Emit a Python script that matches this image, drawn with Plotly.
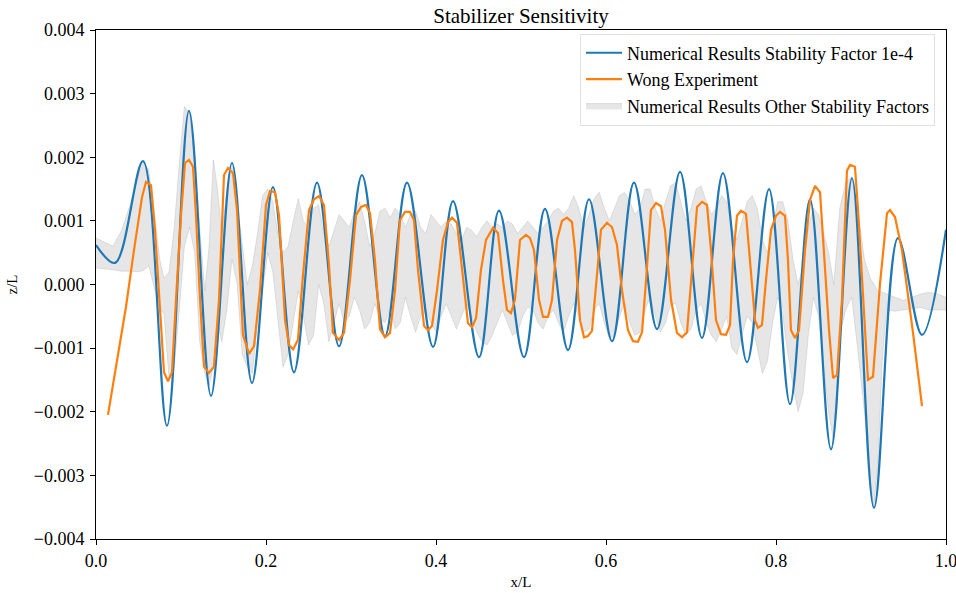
import plotly.graph_objects as go

# Numerical result, stability factor 1e-4 (extrema of the wave profile)
num_x = [0.0, 0.0224, 0.0553, 0.0835, 0.1094, 0.1353, 0.16, 0.1835, 0.2082, 0.2329,
         0.26, 0.2859, 0.3129, 0.34, 0.3659, 0.3965, 0.42, 0.4506, 0.4741, 0.5035,
         0.5282, 0.5553, 0.58, 0.6071, 0.6329, 0.66, 0.6871, 0.7129, 0.7376, 0.7659,
         0.7918, 0.8165, 0.84, 0.8647, 0.8894, 0.9153, 0.9435, 0.9718, 1.0]
num_z = [0.00062, 0.00034, 0.00194, -0.00222, 0.00273, -0.00175, 0.00191, -0.00155, 0.00153, -0.00138,
         0.0016, -0.00097, 0.00172, -0.00081, 0.0016, -0.00098, 0.00131, -0.00114, 0.00116, -0.00114,
         0.00119, -0.00103, 0.00134, -0.00089, 0.0016, -0.0007, 0.00177, -0.00084, 0.00175, -0.00122,
         0.0015, -0.00188, 0.00134, -0.00259, 0.00167, -0.00351, 0.00073, -0.00079, 0.00086]

exp_x = [0.0141, 0.0235, 0.0353, 0.0447, 0.0541, 0.0588, 0.0647, 0.0694, 0.0765, 0.08,
         0.0847, 0.0894, 0.0941, 0.1, 0.1047, 0.1094, 0.1141, 0.1176, 0.1224, 0.1271,
         0.1329, 0.1388, 0.1447, 0.1506, 0.1553, 0.1612, 0.1659, 0.1729, 0.18, 0.1859,
         0.1929, 0.2, 0.2047, 0.2106, 0.2153, 0.2224, 0.2271, 0.2318, 0.2376, 0.2435,
         0.2506, 0.2565, 0.2624, 0.2682, 0.2741, 0.2788, 0.2859, 0.2918, 0.2988, 0.3059,
         0.3118, 0.3176, 0.3224, 0.3282, 0.3341, 0.34, 0.3459, 0.3518, 0.3576, 0.3635,
         0.3694, 0.3741, 0.3788, 0.3859, 0.3906, 0.3953, 0.4012, 0.4082, 0.4141, 0.4188,
         0.4247, 0.4306, 0.4376, 0.4424, 0.4471, 0.4529, 0.4588, 0.4671, 0.4729, 0.4788,
         0.4835, 0.4882, 0.4929, 0.4988, 0.5059, 0.5106, 0.5153, 0.5212, 0.5259, 0.5318,
         0.5365, 0.5424, 0.5482, 0.5541, 0.56, 0.5635, 0.5694, 0.5741, 0.5788, 0.5835,
         0.5894, 0.5941, 0.6012, 0.6071, 0.6129, 0.6188, 0.6259, 0.6318, 0.6376, 0.6424,
         0.6471, 0.6529, 0.6588, 0.6647, 0.6694, 0.6765, 0.6835, 0.6894, 0.6953, 0.7,
         0.7071, 0.7129, 0.7188, 0.7235, 0.7294, 0.7353, 0.7412, 0.7459, 0.7494, 0.7541,
         0.7588, 0.7647, 0.7694, 0.7753, 0.7788, 0.7835, 0.7882, 0.7941, 0.8, 0.8047,
         0.8106, 0.8141, 0.8176, 0.8224, 0.8271, 0.8341, 0.84, 0.8459, 0.8518, 0.8576,
         0.8624, 0.8671, 0.8718, 0.8776, 0.8835, 0.8871, 0.8929, 0.8965, 0.9024, 0.9082,
         0.9141, 0.9224, 0.9306, 0.9341, 0.94, 0.9482, 0.9612, 0.9718]
exp_z = [-0.00205, -0.0013, -0.00035, 0.00054, 0.00137, 0.00161, 0.00156, 0.00086, -0.00072, -0.00138,
         -0.00152, -0.00138, -0.00024, 0.00109, 0.00191, 0.00196, 0.00185, 0.00109, -0.00024, -0.00129,
         -0.00139, -0.00129, -0.00024, 0.00172, 0.00183, 0.00175, 0.00117, -0.00079, -0.00109, -0.00097,
         -0.00009, 0.00125, 0.00147, 0.00145, 0.00109, -0.00056, -0.00095, -0.00102, -0.00087, 0.00015,
         0.00117, 0.00134, 0.00139, 0.00125, 0.00031, -0.00076, -0.00087, -0.00076, 0.00007, 0.00109,
         0.00122, 0.00125, 0.00112, 0.00038, -0.0007, -0.00083, -0.00076, -0.00009, 0.00101, 0.00114,
         0.00114, 0.00101, 0.00023, -0.00065, -0.00072, -0.00065, -0.00009, 0.0007, 0.00098, 0.00105,
         0.00097, 0.00023, -0.00061, -0.00067, -0.00053, 0.00023, 0.0007, 0.00089, 0.00081, 0.00007,
         -0.0004, -0.00045, -0.00024, 0.0007, 0.00078, 0.00073, 0.00054, -0.00024, -0.00051, -0.00051,
         -0.00024, 0.0007, 0.001, 0.00105, 0.00098, 0.00054, -0.00056, -0.00083, -0.00081, -0.00073,
         0.00023, 0.00086, 0.00097, 0.0009, 0.00062, -0.00009, -0.00072, -0.00089, -0.0009, -0.00075,
         0.00007, 0.00117, 0.00128, 0.00123, 0.00086, -0.00024, -0.00076, -0.00083, -0.00075, 0.00007,
         0.00122, 0.0013, 0.00125, 0.00054, -0.00056, -0.00078, -0.00079, -0.00064, 0.00038, 0.00108,
         0.00116, 0.00111, 0.00038, -0.00056, -0.00068, -0.00064, 0.00007, 0.00086, 0.00108, 0.00114,
         0.00108, 0.00038, -0.00072, -0.00084, -0.00072, 0.00054, 0.00133, 0.00155, 0.00145, 0.00031,
         -0.00072, -0.00147, -0.00142, -0.00024, 0.00179, 0.00188, 0.00185, 0.00117, -0.00024, -0.0015,
         -0.00145, 0.00002, 0.00112, 0.00117, 0.00106, 0.00054, -0.00076, -0.00191]

# Envelope of the runs with the other stability factors
band_x = [0.0, 0.01, 0.02, 0.03, 0.04, 0.05, 0.056, 0.062, 0.068, 0.075,
          0.08, 0.086, 0.092, 0.098, 0.104, 0.11, 0.116, 0.122, 0.128, 0.133,
          0.138, 0.143, 0.148, 0.154, 0.16, 0.166, 0.172, 0.178, 0.184, 0.19,
          0.196, 0.202, 0.208, 0.214, 0.22, 0.226, 0.232, 0.238, 0.244, 0.25,
          0.256, 0.262, 0.268, 0.274, 0.28, 0.286, 0.292, 0.298, 0.304, 0.31,
          0.316, 0.322, 0.328, 0.334, 0.34, 0.346, 0.352, 0.358, 0.364, 0.37,
          0.376, 0.382, 0.388, 0.394, 0.4, 0.406, 0.412, 0.418, 0.424, 0.43,
          0.436, 0.442, 0.448, 0.454, 0.46, 0.466, 0.472, 0.478, 0.484, 0.49,
          0.496, 0.502, 0.508, 0.514, 0.52, 0.526, 0.532, 0.538, 0.544, 0.55,
          0.556, 0.562, 0.568, 0.574, 0.58, 0.586, 0.592, 0.598, 0.604, 0.61,
          0.616, 0.622, 0.628, 0.634, 0.64, 0.646, 0.652, 0.658, 0.664, 0.67,
          0.676, 0.682, 0.688, 0.694, 0.7, 0.706, 0.712, 0.718, 0.724, 0.73,
          0.736, 0.742, 0.748, 0.754, 0.76, 0.766, 0.772, 0.778, 0.784, 0.79,
          0.796, 0.802, 0.808, 0.814, 0.82, 0.826, 0.832, 0.838, 0.844, 0.85,
          0.856, 0.862, 0.868, 0.875, 0.882, 0.889, 0.896, 0.904, 0.911, 0.915,
          0.92, 0.925, 0.93, 0.94, 0.95, 0.96, 0.97, 0.98, 0.99, 1.0]
band_hi = [0.00073, 0.00066, 0.0006, 0.00085, 0.00125, 0.00172, 0.00192, 0.0018, 0.0012, 0.0004,
           0.0001, 0.0002, 0.0009, 0.0019, 0.0028, 0.0027, 0.002, 0.0009, -0.0001, 0.0006,
           0.00196, 0.0015, 0.0008, 0.0015, 0.00185, 0.0013, 0.0006, 0.0, 0.0003, 0.0008,
           0.0014, 0.0015, 0.0013, 0.0008, 0.0005, 0.0006, 0.001, 0.00135, 0.001, 0.0009,
           0.0012, 0.00125, 0.0008, 0.0006, 0.00085, 0.0011, 0.001, 0.0009, 0.00115, 0.0013,
           0.001, 0.0006, 0.0008, 0.00115, 0.0012, 0.00105, 0.0012, 0.0011, 0.0009, 0.0011,
           0.00115, 0.0009, 0.0008, 0.0011, 0.001, 0.0009, 0.001, 0.00095, 0.0008, 0.0007,
           0.0009, 0.00085, 0.00075, 0.0009, 0.001, 0.0009, 0.00095, 0.0009, 0.001, 0.00095,
           0.0008, 0.0009, 0.001, 0.0009, 0.0008, 0.0009, 0.001, 0.00115, 0.0012, 0.0011,
           0.0012, 0.0014, 0.0012, 0.0009, 0.0011, 0.00135, 0.00145, 0.0012, 0.001, 0.0012,
           0.0014, 0.00145, 0.0013, 0.0011, 0.0012, 0.0015, 0.0015, 0.0012, 0.001, 0.0013,
           0.00155, 0.0016, 0.0013, 0.001, 0.0012, 0.0015, 0.00155, 0.0013, 0.0011, 0.0012,
           0.0014, 0.0013, 0.0009, 0.0007, 0.001, 0.0013, 0.0014, 0.0012, 0.0007, 0.0005,
           0.0009, 0.0013, 0.0013, 0.001, 0.0004, 0.0, 0.0003, 0.0009, 0.0012, 0.0011,
           0.0008, 0.0005, 0.0, 0.0012, 0.0016, 0.0017, 0.0012, 0.0004, 0.0001, 0.0,
           -0.0001, -0.00012, -0.00015, -0.0002, -0.00025, -0.0002, -0.00015, -0.00012, -0.00015, -0.0002]
band_lo = [0.00026, 0.00024, 0.00023, 0.00021, 0.00021, 0.0002, 0.00022, 0.0003, 0.0, -0.0004,
           -0.00045, -0.0015, -0.0013, -0.0004, 0.0006, 0.0009, 0.0005, -0.0009, -0.0014, -0.0016,
           -0.0013, -0.0006, -0.0009, -0.0004, 0.0004, 0.0, -0.0011, -0.0013, -0.0014, -0.0006,
           -0.0001, 0.0005, 0.0002, -0.0006, -0.0013, -0.0011, -0.0006, -0.0001, -0.0005, -0.00095,
           -0.0008, 0.0, -0.0003, -0.0009, -0.0006, -0.0003, -0.0006, -0.0005, -0.0002, -0.0004,
           -0.0007, -0.0006, -0.0003, -0.00055, -0.0006, -0.0004, -0.0007, -0.0006, -0.0002, -0.0005,
           -0.00075, -0.0005, -0.0004, -0.0006, -0.00075, -0.0005, -0.0003, -0.0005, -0.0007, -0.0005,
           -0.0003, -0.0005, -0.00075, -0.0009, -0.00095, -0.0008, -0.0006, -0.0004, -0.0006, -0.0008,
           -0.00075, -0.0005, -0.00035, -0.0004, -0.0006, -0.0007, -0.0005, -0.0004, -0.0006, -0.00075,
           -0.0005, -0.0003, -0.0005, -0.00075, -0.0007, -0.0004, -0.0003, -0.0006, -0.00085, -0.0008,
           -0.0005, -0.0003, -0.0006, -0.0008, -0.00075, -0.0004, -0.0002, -0.0005, -0.00075, -0.0006,
           -0.0003, -0.0003, -0.0006, -0.0008, -0.0007, -0.0004, -0.0003, -0.0006, -0.0008, -0.0009,
           -0.0007, -0.0005, -0.001, -0.0011, -0.0008, -0.0005, -0.0006, -0.001, -0.0014, -0.0012,
           -0.0006, -0.0002, -0.0005, -0.0011, -0.0016, -0.002, -0.0017, -0.0008, -0.0002, -0.0005,
           -0.0013, -0.002, -0.0025, -0.0008, -0.0004, -0.0002, -0.001, -0.002, -0.0031, -0.0035,
           -0.0028, -0.0012, -0.0004, -0.00042, -0.0004, -0.00038, -0.00036, -0.0004, -0.0004, -0.0004]

SERIF = "Liberation Serif, Times New Roman, serif"
BLUE = "#1f77b4"
ORANGE = "#ff7f0e"

fig = go.Figure()

# grey envelope as a closed polygon: upper edge forward, lower edge back
fig.add_trace(go.Scatter(
    x=band_x + band_x[::-1],
    y=band_hi + band_lo[::-1],
    fill="toself",
    fillcolor="rgba(128,128,128,0.2)",
    line=dict(color="rgba(128,128,128,0.2)", width=1),
    mode="lines",
    name="Numerical Results Other Stability Factors",
    legendrank=3, legendgroup="c",
    hoverinfo="skip",
))

fig.add_trace(go.Scatter(
    x=num_x, y=num_z, mode="lines",
    line=dict(color=BLUE, width=2.2, shape="spline", smoothing=1.0),
    name="Numerical Results Stability Factor 1e-4",
    legendrank=1, legendgroup="a",
))

fig.add_trace(go.Scatter(
    x=exp_x, y=exp_z, mode="lines",
    line=dict(color=ORANGE, width=2.2),
    name="Wong Experiment",
    legendrank=2, legendgroup="b",
))

axis_common = dict(
    showline=True, linecolor="black", linewidth=1, mirror=True,
    ticks="outside", ticklen=5, tickcolor="black", tickwidth=1,
    showgrid=False, zeroline=False, automargin=False,
    ticklabeloverflow="allow",
    tickfont=dict(family=SERIF, size=18, color="black"),
)

fig.update_xaxes(
    range=[0, 1], dtick=0.2, tick0=0, tickformat=".1f",
    title=dict(text="x/L", font=dict(family=SERIF, size=15, color="black"), standoff=6),
    **axis_common,
)
fig.update_yaxes(
    range=[-0.004, 0.004], dtick=0.001, tick0=0, tickformat=".3f",
    ticklabelstandoff=2,
    title=dict(text="z/L", font=dict(family=SERIF, size=15, color="black"), standoff=12),
    **axis_common,
)

fig.update_layout(
    width=956, height=593,
    margin=dict(l=96, r=10, t=30, b=54),
    paper_bgcolor="white", plot_bgcolor="white",
    title=dict(text="Stabilizer Sensitivity", x=0.5, xref="paper", xanchor="center",
               y=0.974, yanchor="middle",
               font=dict(family=SERIF, size=21, color="black")),
    showlegend=True,
    legend=dict(
        x=0.5694, y=0.993, xanchor="left", yanchor="top",
        bgcolor="rgba(255,255,255,0.8)", bordercolor="#e0e0e0", borderwidth=1,
        font=dict(family=SERIF, size=18, color="black"),
        traceorder="grouped", tracegroupgap=0, itemwidth=36,
    ),
)

fig.write_html("out.html")
